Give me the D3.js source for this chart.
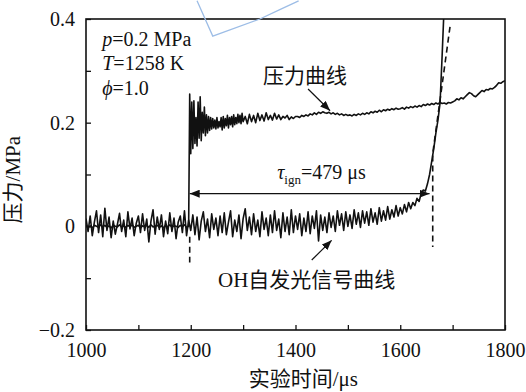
<!DOCTYPE html>
<html>
<head>
<meta charset="utf-8">
<script src="https://cdn.jsdelivr.net/npm/d3@7"></script>
<style>
  body { margin: 0; background: #fff; }
  text { font-family: "Liberation Serif", "Noto Sans CJK SC", serif; fill: #111; }
</style>
</head>
<body>
<div id="chart"></div>
<script>
// axis ticks
const xTicks = [1000, 1100, 1200, 1300, 1400, 1500, 1600, 1700, 1800];
const xLabels = [1000, 1200, 1400, 1600, 1800];
const yTicks = [-0.2, -0.1, 0, 0.1, 0.2, 0.3, 0.4];
const yLabels = [-0.2, 0, 0.2, 0.4];

// pressure trace, 1000-1196 us every 4 us (before the shock arrives)
const pBaseStart = 1000, pBaseStep = 4;
const pBase = [0.002,-0.002,0.001,-0.003,0.002,0.0,-0.002,0.003,-0.001,0.002,
  -0.002,0.001,-0.003,0.002,0.0,-0.001,0.003,-0.002,0.001,-0.002,
  0.002,-0.001,0.003,-0.002,0.0,0.002,-0.003,0.001,-0.001,0.002,
  -0.002,0.003,-0.001,0.0,0.002,-0.002,0.001,-0.003,0.002,-0.001,
  0.003,-0.002,0.001,0.0,-0.002,0.002,-0.001,0.003,-0.002,0.0];

// pressure trace after the reflected shock, 1198-1300 us every 2 us
const pShockStart = 1198, pShockStep = 2;
const pShock = [0.255,0.14,0.24,0.15,0.242,0.16,0.21,0.155,0.24,0.17,0.25,0.165,
  0.22,0.18,0.23,0.175,0.215,0.18,0.212,0.185,0.21,0.188,0.208,0.19,0.205,0.188,
  0.21,0.19,0.202,0.192,0.21,0.186,0.212,0.19,0.208,0.194,0.214,0.19,0.21,0.196,
  0.212,0.192,0.215,0.196,0.21,0.198,0.216,0.2,0.214,0.198,0.218,0.202];

// pressure trace 1304-1800 us every 4 us
const pLateStart = 1304, pLateStep = 4;
const pLate = [0.212,0.198,0.216,0.202,0.214,0.2,0.218,0.204,0.215,0.203,0.219,0.206,
  0.214,0.205,0.218,0.207,0.215,0.206,0.212,0.209,0.214,0.206,0.211,0.208,0.212,
  0.212,0.21,0.214,0.212,0.215,0.213,0.217,0.215,0.219,0.216,0.22,0.218,0.221,
  0.219,0.218,0.22,0.217,0.219,0.216,0.218,0.215,0.217,0.214,0.216,0.214,
  0.215,0.213,0.216,0.214,0.217,0.215,0.218,0.216,0.219,0.217,0.221,0.219,0.222,
  0.22,0.224,0.221,0.225,0.223,0.226,0.224,0.227,0.225,0.228,0.226,0.227,
  0.229,0.226,0.23,0.228,0.231,0.229,0.232,0.23,0.233,0.231,0.235,0.233,0.236,
  0.234,0.237,0.235,0.238,0.236,0.239,0.237,0.238,0.236,0.239,0.238,0.24,
  0.242,0.246,0.244,0.248,0.246,0.25,0.254,0.258,0.256,0.252,0.25,0.254,0.258,
  0.262,0.26,0.264,0.263,0.266,0.265,0.268,0.272,0.277,0.276,0.279,0.281];

// OH emission signal, 1000-1684 us every 4 us
const ohStart = 1000, ohStep = 4;
const ohSignal = [0.015,-0.01,0.02,-0.018,0.008,0.03,-0.012,0.022,-0.02,0.035,-0.008,0.018,-0.022,
  0.01,-0.015,0.004,0.025,-0.01,0.012,-0.02,0.028,-0.005,0.016,-0.018,0.006,0.02,
  -0.012,0.024,-0.008,0.014,-0.03,0.01,0.032,-0.015,0.018,-0.006,0.022,-0.02,0.01,
  -0.014,0.026,-0.01,0.016,-0.024,0.008,0.02,-0.012,0.03,-0.018,0.012,-0.008,0.022,
  -0.016,0.018,-0.026,0.01,0.028,-0.01,0.014,-0.022,0.024,-0.006,0.016,-0.018,0.02,
  -0.012,0.026,-0.016,0.008,0.03,-0.02,0.012,-0.01,0.022,-0.024,0.015,0.034,-0.008,
  0.018,-0.016,0.024,-0.01,0.012,-0.02,0.028,-0.006,0.016,-0.018,0.022,-0.012,0.03,
  -0.008,0.014,-0.022,0.026,-0.01,0.018,-0.016,0.032,-0.012,0.02,-0.006,0.024,-0.018,
  0.016,-0.01,0.028,-0.014,0.02,-0.004,0.03,-0.028,0.022,-0.008,0.018,-0.012,0.026,
  -0.002,0.02,-0.01,0.03,0.002,0.024,-0.008,0.028,0.0,0.022,-0.004,0.032,0.004,
  0.026,-0.002,0.03,0.006,0.028,0.002,0.034,0.008,0.026,0.004,0.036,0.01,0.03,
  0.012,0.038,0.014,0.032,0.018,0.04,0.02,0.036,0.024,0.042,0.028,0.046,0.034,
  0.046,0.04,0.054,0.048,0.064,0.07,0.068,0.082,0.1,0.125,
  0.15,0.18,0.205,0.238,0.33,0.43];

// tangent used to mark ignition, and the start/end markers
const tangentT = [1695, 1662, 1662];
const tangentV = [0.385, 0.14, -0.04];
const shockMarkT = [1198, 1198];
const shockMarkV = [-0.02, -0.07];
const tauArrowT = [1198, 1656];
const tauArrowV = 0.063;

const params = [
  { sym: "p", rest: "=0.2 MPa" },
  { sym: "T", rest: "=1258 K" },
  { sym: "\u03d5", rest: "=1.0" }
];

const width = 526, height = 392;
const margin = { top: 19, right: 21, bottom: 62, left: 86 };
const iw = width - margin.left - margin.right;
const ih = height - margin.top - margin.bottom;

const svg = d3.select("#chart").append("svg")
  .attr("width", width)
  .attr("height", height);

const x = d3.scaleLinear().domain([1000, 1800]).range([margin.left, margin.left + iw]);
const y = d3.scaleLinear().domain([-0.2, 0.4]).range([margin.top + ih, margin.top]);

const defs = svg.append("defs");
defs.append("clipPath").attr("id", "plot")
  .append("rect")
    .attr("x", margin.left).attr("y", margin.top)
    .attr("width", iw).attr("height", ih);

defs.append("marker")
    .attr("id", "head")
    .attr("viewBox", "0 0 10 8")
    .attr("refX", 10).attr("refY", 4)
    .attr("markerWidth", 10).attr("markerHeight", 8)
    .attr("markerUnits", "userSpaceOnUse")
    .attr("orient", "auto-start-reverse")
  .append("path")
    .attr("d", "M0,0L10,4L0,8Z")
    .attr("fill", "#111");

// build the series
const pressure = [];
pBase.forEach((v, i) => pressure.push([pBaseStart + i * pBaseStep, v]));
pShock.forEach((v, i) => pressure.push([pShockStart + i * pShockStep, v]));
pLate.forEach((v, i) => pressure.push([pLateStart + i * pLateStep, v]));
const oh = ohSignal.map((v, i) => [ohStart + i * ohStep, v]);

const line = d3.line().x(d => x(d[0])).y(d => y(d[1]));

const plot = svg.append("g").attr("clip-path", "url(#plot)");

plot.append("path")
  .datum(pressure)
  .attr("d", line)
  .attr("fill", "none")
  .attr("stroke", "#111")
  .attr("stroke-width", 1.6)
  .attr("stroke-linejoin", "round");

plot.append("path")
  .datum(oh)
  .attr("d", line)
  .attr("fill", "none")
  .attr("stroke", "#111")
  .attr("stroke-width", 1.6)
  .attr("stroke-linejoin", "round");

plot.append("path")
  .datum(tangentT.map((t, i) => [t, tangentV[i]]))
  .attr("d", line)
  .attr("fill", "none")
  .attr("stroke", "#111")
  .attr("stroke-width", 1.6)
  .attr("stroke-dasharray", "6,4");

plot.append("path")
  .datum(shockMarkT.map((t, i) => [t, shockMarkV[i]]))
  .attr("d", line)
  .attr("fill", "none")
  .attr("stroke", "#111")
  .attr("stroke-width", 1.6)
  .attr("stroke-dasharray", "6,4");

// ignition delay arrow
svg.append("line")
  .attr("x1", x(tauArrowT[0])).attr("x2", x(tauArrowT[1]))
  .attr("y1", y(tauArrowV)).attr("y2", y(tauArrowV))
  .attr("stroke", "#111").attr("stroke-width", 1.2)
  .attr("marker-start", "url(#head)")
  .attr("marker-end", "url(#head)");

const tau = svg.append("text")
  .attr("x", x(1365)).attr("y", y(0.092))
  .attr("font-size", 20);
tau.append("tspan").attr("font-style", "italic").text("\u03c4");
tau.append("tspan").attr("font-size", 13).attr("dy", 5).text("ign");
tau.append("tspan").attr("dy", -5).text("=479 \u03bcs");

// curve labels and pointers
svg.append("text")
  .attr("x", x(1338)).attr("y", y(0.277))
  .attr("font-size", 21)
  .text("压力曲线");
svg.append("line")
  .attr("x1", x(1424)).attr("y1", y(0.265))
  .attr("x2", x(1466)).attr("y2", y(0.223))
  .attr("stroke", "#111").attr("stroke-width", 1.2)
  .attr("marker-end", "url(#head)");

svg.append("text")
  .attr("x", x(1252)).attr("y", y(-0.117))
  .attr("font-size", 21)
  .text("OH自发光信号曲线");
svg.append("line")
  .attr("x1", x(1431)).attr("y1", y(-0.065))
  .attr("x2", x(1469)).attr("y2", y(-0.027))
  .attr("stroke", "#111").attr("stroke-width", 1.2)
  .attr("marker-end", "url(#head)");

// experiment conditions
params.forEach((p, i) => {
  const t = svg.append("text")
    .attr("x", x(1031)).attr("y", y(0.348) + i * 24.5)
    .attr("font-size", 20);
  t.append("tspan").attr("font-style", "italic").text(p.sym);
  t.append("tspan").text(p.rest);
});

// axes
const xAxis = d3.axisBottom(x)
  .tickValues(xTicks)
  .tickFormat(d => xLabels.includes(d) ? d : "")
  .tickSizeInner(-5).tickSizeOuter(0).tickPadding(13);
const gx = svg.append("g")
  .attr("transform", `translate(0,${margin.top + ih})`)
  .call(xAxis);

const yAxis = d3.axisLeft(y)
  .tickValues(yTicks)
  .tickFormat(d => yLabels.some(v => Math.abs(v - d) < 1e-9) ? (Math.abs(d) < 1e-9 ? "0" : d3.format(".1f")(d)) : "")
  .tickSizeInner(-5).tickSizeOuter(0).tickPadding(11);
const gy = svg.append("g")
  .attr("transform", `translate(${margin.left},0)`)
  .call(yAxis);

[gx, gy].forEach(g => {
  g.select(".domain").remove();
  g.selectAll(".tick line").attr("stroke", "#111").attr("stroke-width", 1.3);
  g.selectAll(".tick text")
    .attr("font-size", 20)
    .attr("font-family", "Liberation Serif, serif")
    .attr("fill", "#111");
});

svg.append("rect")
  .attr("x", margin.left).attr("y", margin.top)
  .attr("width", iw).attr("height", ih)
  .attr("fill", "none")
  .attr("stroke", "#111")
  .attr("stroke-width", 1.6);

svg.append("text")
  .attr("transform", `translate(20,${y(0.09)}) rotate(-90)`)
  .attr("text-anchor", "middle")
  .attr("font-size", 21)
  .text("压力/MPa");

svg.append("text")
  .attr("x", x(1415)).attr("y", 386)
  .attr("text-anchor", "middle")
  .attr("font-size", 21)
  .text("实验时间/\u03bcs");

// stray blue stroke at the top of the scanned figure
svg.append("path")
  .datum([[1212, 0.435], [1242, 0.367], [1332, 0.4], [1370, 0.418], [1406, 0.435]])
  .attr("d", line)
  .attr("fill", "none")
  .attr("stroke", "#9dbde6")
  .attr("stroke-width", 1.3);
</script>
</body>
</html>
